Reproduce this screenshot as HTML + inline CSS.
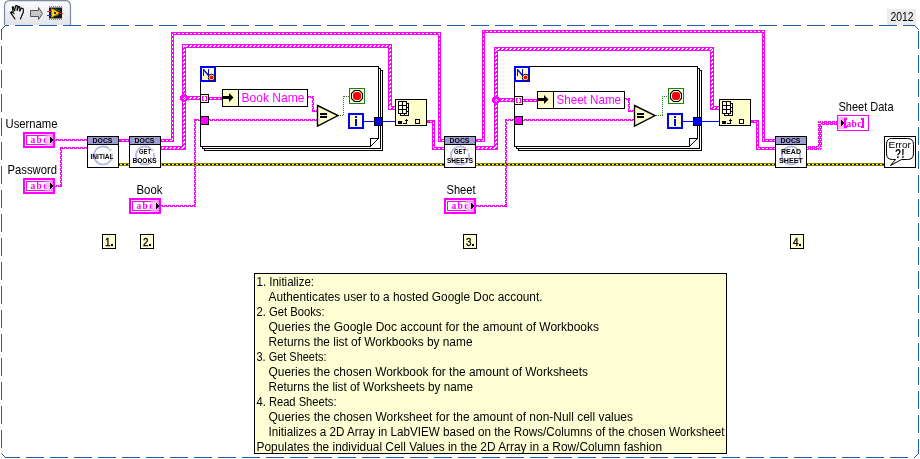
<!DOCTYPE html>
<html><head><meta charset="utf-8"><style>
html,body{margin:0;padding:0;background:#fff;width:920px;height:459px;overflow:hidden}
svg{display:block;will-change:transform}
</style></head><body>
<svg width="920" height="459" viewBox="0 0 920 459" shape-rendering="crispEdges">
<defs>
<pattern id="dh" width="4" height="1" patternUnits="userSpaceOnUse"><rect x="2" width="2" height="1" fill="#fff"/></pattern>
<pattern id="dv" width="1" height="4" patternUnits="userSpaceOnUse"><rect y="2" width="1" height="2" fill="#fff"/></pattern>
<pattern id="zA" width="4" height="1" patternUnits="userSpaceOnUse"><rect x="2" width="2" height="1" fill="#fff"/></pattern>
<pattern id="zB" width="4" height="1" patternUnits="userSpaceOnUse"><rect x="1" width="2" height="1" fill="#fff"/></pattern>
<pattern id="zAv" width="1" height="4" patternUnits="userSpaceOnUse"><rect y="2" width="1" height="2" fill="#fff"/></pattern>
<pattern id="zBv" width="1" height="4" patternUnits="userSpaceOnUse"><rect y="1" width="1" height="2" fill="#fff"/></pattern>
<pattern id="c0" width="4" height="1" patternUnits="userSpaceOnUse"><rect x="3" width="1" height="1" fill="#fff"/></pattern><pattern id="c1" width="4" height="1" patternUnits="userSpaceOnUse"><rect x="1" width="1" height="1" fill="#fff"/></pattern>
<pattern id="c0v" width="1" height="4" patternUnits="userSpaceOnUse"><rect y="3" width="1" height="1" fill="#fff"/></pattern><pattern id="c1v" width="1" height="4" patternUnits="userSpaceOnUse"><rect y="1" width="1" height="1" fill="#fff"/></pattern>
<pattern id="swA" width="4" height="1" patternUnits="userSpaceOnUse"><rect x="0" width="3" height="1" fill="#ff00ff"/></pattern>
<pattern id="swB" width="4" height="1" patternUnits="userSpaceOnUse"><rect x="0" width="1" height="1" fill="#ff00ff"/><rect x="2" width="2" height="1" fill="#ff00ff"/></pattern>
<pattern id="swAv" width="1" height="4" patternUnits="userSpaceOnUse"><rect y="0" width="1" height="3" fill="#ff00ff"/></pattern>
<pattern id="swBv" width="1" height="4" patternUnits="userSpaceOnUse"><rect y="0" width="1" height="1" fill="#ff00ff"/><rect y="2" width="1" height="2" fill="#ff00ff"/></pattern>
<pattern id="eh" width="4" height="1" patternUnits="userSpaceOnUse"><rect x="0" width="2" height="1" fill="#ffff00"/><rect x="2" width="2" height="1" fill="#000"/></pattern>
<pattern id="ev" width="1" height="4" patternUnits="userSpaceOnUse"><rect y="0" width="1" height="2" fill="#ffff00"/><rect y="2" width="1" height="2" fill="#000"/></pattern>
<pattern id="gd" width="2" height="1" patternUnits="userSpaceOnUse"><rect x="0" width="1" height="1" fill="#1a7f1a"/></pattern>
<pattern id="gdv" width="1" height="2" patternUnits="userSpaceOnUse"><rect y="0" width="1" height="1" fill="#1a7f1a"/></pattern>
<linearGradient id="tabg" x1="0" y1="0" x2="0" y2="1"><stop offset="0" stop-color="#fbfbfd"/><stop offset="1" stop-color="#e3e4e9"/></linearGradient>
<radialGradient id="gG" cx="0.5" cy="0.5" r="0.5"><stop offset="0.6" stop-color="#fff" stop-opacity="0"/><stop offset="0.8" stop-color="#9a9ae0"/><stop offset="1" stop-color="#fff" stop-opacity="0"/></radialGradient>
</defs>
<path d="M4.5,25 L4.5,6 Q4.5,0.7 9.8,0.7 L65.2,0.7 Q70.5,0.7 70.5,6 L70.5,25" fill="url(#tabg)" stroke="#8089a0" stroke-width="1.2" shape-rendering="geometricPrecision"/>
<g fill="none" stroke="#000" stroke-width="1.15" stroke-linecap="round" stroke-linejoin="round" shape-rendering="geometricPrecision"><path d="M15,19 L10.6,12.6 L11.6,11.8 L14,13.6"/><path d="M13.2,11.8 L12.3,7.3 L13.2,6.6 L14.6,10.8"/><path d="M14.6,10.6 L15.6,5.8 L17.2,5.6 L17.2,10.4"/><path d="M17.4,10 L18.6,6.4 L19.8,6.8 L19.9,11.2"/><path d="M20,10.4 L21.4,8.0 L23.2,8.8 L23.4,12 L20.4,19"/></g>
<path d="M30.5,10.5 L38.5,10.5 L38.5,7.5 L42.5,13.5 L38.5,19.5 L38.5,16.5 L30.5,16.5 Z" fill="#c8c8c8" stroke="#555" stroke-width="1" shape-rendering="geometricPrecision"/>
<rect x="49" y="6" width="13" height="14" fill="#151515" />
<rect x="49" y="6" width="13" height="2" fill="#8a8a8a" />
<rect x="49" y="18" width="13" height="2" fill="#8a8a8a" />
<rect x="50" y="6" width="1" height="1" fill="#e8e8e8" />
<rect x="50" y="19" width="1" height="1" fill="#e8e8e8" />
<rect x="52" y="6" width="1" height="1" fill="#e8e8e8" />
<rect x="52" y="19" width="1" height="1" fill="#e8e8e8" />
<rect x="54" y="6" width="1" height="1" fill="#e8e8e8" />
<rect x="54" y="19" width="1" height="1" fill="#e8e8e8" />
<rect x="56" y="6" width="1" height="1" fill="#e8e8e8" />
<rect x="56" y="19" width="1" height="1" fill="#e8e8e8" />
<rect x="58" y="6" width="1" height="1" fill="#e8e8e8" />
<rect x="58" y="19" width="1" height="1" fill="#e8e8e8" />
<rect x="60" y="6" width="1" height="1" fill="#e8e8e8" />
<rect x="60" y="19" width="1" height="1" fill="#e8e8e8" />
<path d="M55,9 L60,11 M56,16 L60,13 M54,9 L58,16" stroke="#2a8a2a" stroke-width="0.8" shape-rendering="geometricPrecision"/>
<path d="M51.5,8.5 L59.5,13 L51.5,17.5 Z" fill="#f8d41c" stroke="#d89a00" stroke-width="0.6" shape-rendering="geometricPrecision"/>
<rect x="47" y="11" width="5" height="1" fill="#ff2020" />
<rect x="47" y="15" width="5" height="1" fill="#2030ff" />
<rect x="58" y="13" width="5" height="1" fill="#ff2020" />
<rect x="54" y="12" width="2" height="2" fill="#333" />
<rect x="887" y="9" width="29" height="16" fill="#ebebeb" />
<text x="890.5" y="21" font-family="Liberation Sans" font-size="12.6" font-weight="400" fill="#000" textLength="23" lengthAdjust="spacingAndGlyphs" >2012</text>
<g stroke="#1d5fab" stroke-width="1" fill="none">
<line x1="5" y1="25.5" x2="915" y2="25.5" stroke-dasharray="18 6" stroke-dashoffset="14"/>
<line x1="5" y1="457.5" x2="915" y2="457.5" stroke-dasharray="18 6" stroke-dashoffset="3"/>
<line x1="1.5" y1="29" x2="1.5" y2="454" stroke-dasharray="18 6" stroke-dashoffset="7"/>
<line x1="918.5" y1="29" x2="918.5" y2="454" stroke-dasharray="18 6" stroke-dashoffset="22"/>
<path d="M1.5,29.5 L5.5,25.5" shape-rendering="geometricPrecision"/>
<path d="M914.5,25.5 L918.5,29.5" shape-rendering="geometricPrecision"/>
<path d="M1.5,453.5 L5.5,457.5" shape-rendering="geometricPrecision"/>
<path d="M914.5,457.5 L918.5,453.5" shape-rendering="geometricPrecision"/>
</g>
<text x="5.5" y="128" font-family="Liberation Sans" font-size="12.2" font-weight="400" fill="#000" textLength="52" lengthAdjust="spacingAndGlyphs" >Username</text>
<rect x="23" y="132" width="32" height="16" fill="#ff00ff" />
<rect x="25" y="134" width="28" height="12" fill="#fff" />
<rect x="26" y="135" width="26" height="10" fill="#ff00ff" />
<rect x="27" y="136" width="24" height="8" fill="#fff" />
<text x="30.5" y="143" font-family="Liberation Serif" font-size="9.5" font-weight="700" fill="#ff00ff" textLength="17" lengthAdjust="spacing" >abc</text>
<rect x="45" y="134" width="8" height="12" fill="#ffb0ff" opacity="0.75"/>
<rect x="52" y="134" width="1" height="12" fill="#ff80ff" />
<path d="M50,137 L53,140 L50,143 Z" fill="#000"/>
<text x="7.5" y="174" font-family="Liberation Sans" font-size="12.2" font-weight="400" fill="#000" textLength="49.5" lengthAdjust="spacingAndGlyphs" >Password</text>
<rect x="23" y="178" width="32" height="16" fill="#ff00ff" />
<rect x="25" y="180" width="28" height="12" fill="#fff" />
<rect x="26" y="181" width="26" height="10" fill="#ff00ff" />
<rect x="27" y="182" width="24" height="8" fill="#fff" />
<text x="30.5" y="189" font-family="Liberation Serif" font-size="9.5" font-weight="700" fill="#ff00ff" textLength="17" lengthAdjust="spacing" >abc</text>
<rect x="45" y="180" width="8" height="12" fill="#ffb0ff" opacity="0.75"/>
<rect x="52" y="180" width="1" height="12" fill="#ff80ff" />
<path d="M50,183 L53,186 L50,189 Z" fill="#000"/>
<text x="136.5" y="194" font-family="Liberation Sans" font-size="12.2" font-weight="400" fill="#000" textLength="26" lengthAdjust="spacingAndGlyphs" >Book</text>
<rect x="129" y="198" width="32" height="16" fill="#ff00ff" />
<rect x="131" y="200" width="28" height="12" fill="#fff" />
<rect x="132" y="201" width="26" height="10" fill="#ff00ff" />
<rect x="133" y="202" width="24" height="8" fill="#fff" />
<text x="136.5" y="209" font-family="Liberation Serif" font-size="9.5" font-weight="700" fill="#ff00ff" textLength="17" lengthAdjust="spacing" >abc</text>
<rect x="151" y="200" width="8" height="12" fill="#ffb0ff" opacity="0.75"/>
<rect x="158" y="200" width="1" height="12" fill="#ff80ff" />
<path d="M156,203 L159,206 L156,209 Z" fill="#000"/>
<text x="446.5" y="194" font-family="Liberation Sans" font-size="12.2" font-weight="400" fill="#000" textLength="29" lengthAdjust="spacingAndGlyphs" >Sheet</text>
<rect x="444" y="198" width="32" height="16" fill="#ff00ff" />
<rect x="446" y="200" width="28" height="12" fill="#fff" />
<rect x="447" y="201" width="26" height="10" fill="#ff00ff" />
<rect x="448" y="202" width="24" height="8" fill="#fff" />
<text x="451.5" y="209" font-family="Liberation Serif" font-size="9.5" font-weight="700" fill="#ff00ff" textLength="17" lengthAdjust="spacing" >abc</text>
<rect x="466" y="200" width="8" height="12" fill="#ffb0ff" opacity="0.75"/>
<rect x="473" y="200" width="1" height="12" fill="#ff80ff" />
<path d="M471,203 L474,206 L471,209 Z" fill="#000"/>
<text x="838.5" y="111" font-family="Liberation Sans" font-size="12.2" font-weight="400" fill="#000" textLength="55" lengthAdjust="spacingAndGlyphs" >Sheet Data</text>
<rect x="55" y="139" width="34" height="1" fill="url(#swA)" />
<rect x="55" y="140" width="34" height="1" fill="url(#swB)" />
<rect x="55" y="185" width="7" height="1" fill="url(#swA)" />
<rect x="55" y="186" width="7" height="1" fill="url(#swB)" />
<rect x="60" y="147" width="1" height="40" fill="url(#swAv)" />
<rect x="61" y="147" width="1" height="40" fill="url(#swBv)" />
<rect x="60" y="147" width="29" height="1" fill="url(#swA)" />
<rect x="60" y="148" width="29" height="1" fill="url(#swB)" />
<rect x="119" y="139" width="13" height="3" fill="#ff00ff" />
<rect x="120" y="140" width="11" height="1" fill="url(#dh)" />
<rect x="119" y="163" width="13" height="3" fill="#8c8400" />
<rect x="119" y="164" width="13" height="1" fill="url(#eh)" />
<rect x="161" y="139" width="13" height="3" fill="#ff00ff" />
<rect x="171" y="32" width="3" height="110" fill="#ff00ff" />
<rect x="171" y="32" width="270" height="3" fill="#ff00ff" />
<rect x="438" y="32" width="3" height="110" fill="#ff00ff" />
<rect x="438" y="139" width="9" height="3" fill="#ff00ff" />
<rect x="162" y="140" width="11" height="1" fill="url(#dh)" />
<rect x="172" y="33" width="1" height="108" fill="url(#dv)" />
<rect x="172" y="33" width="268" height="1" fill="url(#dh)" />
<rect x="439" y="33" width="1" height="108" fill="url(#dv)" />
<rect x="439" y="140" width="7" height="1" fill="url(#dh)" />
<rect x="161" y="146" width="25" height="4" fill="#ff00ff" />
<rect x="182" y="44" width="4" height="106" fill="#ff00ff" />
<rect x="182" y="44" width="210" height="4" fill="#ff00ff" />
<rect x="388" y="44" width="4" height="66" fill="#ff00ff" />
<rect x="388" y="106" width="11" height="4" fill="#ff00ff" />
<rect x="162" y="147" width="23" height="1" fill="url(#zA)" />
<rect x="162" y="148" width="23" height="1" fill="url(#zB)" />
<rect x="183" y="45" width="1" height="104" fill="url(#zAv)" />
<rect x="184" y="45" width="1" height="104" fill="url(#zBv)" />
<rect x="183" y="45" width="208" height="1" fill="url(#zA)" />
<rect x="183" y="46" width="208" height="1" fill="url(#zB)" />
<rect x="389" y="45" width="1" height="64" fill="url(#zAv)" />
<rect x="390" y="45" width="1" height="64" fill="url(#zBv)" />
<rect x="389" y="107" width="9" height="1" fill="url(#zA)" />
<rect x="389" y="108" width="9" height="1" fill="url(#zB)" />
<rect x="182" y="96" width="22" height="4" fill="#ff00ff" />
<rect x="183" y="97" width="20" height="1" fill="url(#zA)" />
<rect x="183" y="98" width="20" height="1" fill="url(#zB)" />
<rect x="161" y="205" width="35" height="1" fill="url(#swA)" />
<rect x="161" y="206" width="35" height="1" fill="url(#swB)" />
<rect x="194" y="119" width="1" height="88" fill="url(#swAv)" />
<rect x="195" y="119" width="1" height="88" fill="url(#swBv)" />
<rect x="194" y="119" width="8" height="1" fill="url(#swA)" />
<rect x="194" y="120" width="8" height="1" fill="url(#swB)" />
<rect x="208" y="119" width="111" height="1" fill="url(#swA)" />
<rect x="208" y="120" width="111" height="1" fill="url(#swB)" />
<rect x="208" y="97" width="17" height="3" fill="#ff00ff" />
<rect x="209" y="98" width="15" height="1" fill="url(#dh)" />
<rect x="308" y="96" width="6" height="1" fill="url(#swA)" />
<rect x="308" y="97" width="6" height="1" fill="url(#swB)" />
<rect x="312" y="96" width="1" height="16" fill="url(#swAv)" />
<rect x="313" y="96" width="1" height="16" fill="url(#swBv)" />
<rect x="312" y="110" width="8" height="1" fill="url(#swA)" />
<rect x="312" y="111" width="8" height="1" fill="url(#swB)" />
<rect x="338" y="115" width="6" height="1" fill="url(#gd)" />
<rect x="343" y="96" width="1" height="20" fill="url(#gdv)" />
<rect x="343" y="96" width="7" height="1" fill="url(#gd)" />
<rect x="364" y="121" width="32" height="1" fill="#0000ff" />
<rect x="427" y="120" width="8" height="3" fill="#ff00ff" />
<rect x="432" y="120" width="3" height="30" fill="#ff00ff" />
<rect x="432" y="147" width="15" height="3" fill="#ff00ff" />
<rect x="428" y="121" width="6" height="1" fill="url(#dh)" />
<rect x="433" y="121" width="1" height="28" fill="url(#dv)" />
<rect x="433" y="148" width="13" height="1" fill="url(#dh)" />
<rect x="161" y="163" width="286" height="3" fill="#8c8400" />
<rect x="161" y="164" width="286" height="1" fill="url(#eh)" />
<rect x="476" y="139" width="9" height="3" fill="#ff00ff" />
<rect x="482" y="30" width="3" height="112" fill="#ff00ff" />
<rect x="482" y="30" width="283" height="3" fill="#ff00ff" />
<rect x="762" y="30" width="3" height="112" fill="#ff00ff" />
<rect x="762" y="139" width="16" height="3" fill="#ff00ff" />
<rect x="477" y="140" width="7" height="1" fill="url(#dh)" />
<rect x="483" y="31" width="1" height="110" fill="url(#dv)" />
<rect x="483" y="31" width="281" height="1" fill="url(#dh)" />
<rect x="763" y="31" width="1" height="110" fill="url(#dv)" />
<rect x="763" y="140" width="14" height="1" fill="url(#dh)" />
<rect x="476" y="146" width="22" height="4" fill="#ff00ff" />
<rect x="494" y="47" width="4" height="103" fill="#ff00ff" />
<rect x="494" y="47" width="220" height="4" fill="#ff00ff" />
<rect x="710" y="47" width="4" height="63" fill="#ff00ff" />
<rect x="710" y="106" width="13" height="4" fill="#ff00ff" />
<rect x="477" y="147" width="20" height="1" fill="url(#zA)" />
<rect x="477" y="148" width="20" height="1" fill="url(#zB)" />
<rect x="495" y="48" width="1" height="101" fill="url(#zAv)" />
<rect x="496" y="48" width="1" height="101" fill="url(#zBv)" />
<rect x="495" y="48" width="218" height="1" fill="url(#zA)" />
<rect x="495" y="49" width="218" height="1" fill="url(#zB)" />
<rect x="711" y="48" width="1" height="61" fill="url(#zAv)" />
<rect x="712" y="48" width="1" height="61" fill="url(#zBv)" />
<rect x="711" y="107" width="11" height="1" fill="url(#zA)" />
<rect x="711" y="108" width="11" height="1" fill="url(#zB)" />
<rect x="494" y="98" width="24" height="4" fill="#ff00ff" />
<rect x="495" y="99" width="22" height="1" fill="url(#zA)" />
<rect x="495" y="100" width="22" height="1" fill="url(#zB)" />
<rect x="476" y="205" width="31" height="1" fill="url(#swA)" />
<rect x="476" y="206" width="31" height="1" fill="url(#swB)" />
<rect x="505" y="119" width="1" height="88" fill="url(#swAv)" />
<rect x="506" y="119" width="1" height="88" fill="url(#swBv)" />
<rect x="505" y="119" width="11" height="1" fill="url(#swA)" />
<rect x="505" y="120" width="11" height="1" fill="url(#swB)" />
<rect x="522" y="119" width="114" height="1" fill="url(#swA)" />
<rect x="522" y="120" width="114" height="1" fill="url(#swB)" />
<rect x="522" y="99" width="18" height="3" fill="#ff00ff" />
<rect x="523" y="100" width="16" height="1" fill="url(#dh)" />
<rect x="625" y="98" width="5" height="1" fill="url(#swA)" />
<rect x="625" y="99" width="5" height="1" fill="url(#swB)" />
<rect x="628" y="98" width="1" height="14" fill="url(#swAv)" />
<rect x="629" y="98" width="1" height="14" fill="url(#swBv)" />
<rect x="628" y="110" width="9" height="1" fill="url(#swA)" />
<rect x="628" y="111" width="9" height="1" fill="url(#swB)" />
<rect x="655" y="115" width="8" height="1" fill="url(#gd)" />
<rect x="662" y="96" width="1" height="20" fill="url(#gdv)" />
<rect x="662" y="96" width="7" height="1" fill="url(#gd)" />
<rect x="683" y="121" width="37" height="1" fill="#0000ff" />
<rect x="751" y="120" width="8" height="3" fill="#ff00ff" />
<rect x="756" y="120" width="3" height="30" fill="#ff00ff" />
<rect x="756" y="147" width="22" height="3" fill="#ff00ff" />
<rect x="752" y="121" width="6" height="1" fill="url(#dh)" />
<rect x="757" y="121" width="1" height="28" fill="url(#dv)" />
<rect x="757" y="148" width="20" height="1" fill="url(#dh)" />
<rect x="476" y="163" width="302" height="3" fill="#8c8400" />
<rect x="476" y="164" width="302" height="1" fill="url(#eh)" />
<rect x="807" y="163" width="80" height="3" fill="#8c8400" />
<rect x="807" y="164" width="80" height="1" fill="url(#eh)" />
<rect x="807" y="146" width="15" height="4" fill="#ff00ff" />
<rect x="818" y="121" width="4" height="29" fill="#ff00ff" />
<rect x="818" y="121" width="23" height="4" fill="#ff00ff" />
<rect x="807" y="146" width="15" height="1" fill="url(#c0)" />
<rect x="807" y="147" width="15" height="1" fill="url(#c1)" />
<rect x="807" y="148" width="15" height="1" fill="url(#c0)" />
<rect x="807" y="149" width="15" height="1" fill="url(#c1)" />
<rect x="818" y="121" width="1" height="29" fill="url(#c0v)" />
<rect x="819" y="121" width="1" height="29" fill="url(#c1v)" />
<rect x="820" y="121" width="1" height="29" fill="url(#c0v)" />
<rect x="821" y="121" width="1" height="29" fill="url(#c1v)" />
<rect x="818" y="121" width="23" height="1" fill="url(#c0)" />
<rect x="818" y="122" width="23" height="1" fill="url(#c1)" />
<rect x="818" y="123" width="23" height="1" fill="url(#c0)" />
<rect x="818" y="124" width="23" height="1" fill="url(#c1)" />
<rect x="837.5" y="115.5" width="31" height="15" fill="#fff" stroke="#ff00ff" stroke-width="1"/>
<rect x="838" y="117" width="9" height="12" fill="#ffb3ff" />
<path d="M841,120 L844.5,123 L841,126 Z" fill="#000"/>
<rect x="844" y="118" width="2" height="10" fill="#ff00ff" />
<rect x="846" y="118" width="1" height="2" fill="#ff00ff" />
<rect x="846" y="126" width="1" height="2" fill="#ff00ff" />
<text x="846.5" y="126.5" font-family="Liberation Serif" font-size="9.5" font-weight="700" fill="#ff00ff" textLength="15" lengthAdjust="spacing" >abc</text>
<rect x="862" y="118" width="2" height="10" fill="#ff00ff" />
<rect x="861" y="118" width="1" height="2" fill="#ff00ff" />
<rect x="861" y="126" width="1" height="2" fill="#ff00ff" />
<rect x="180" y="96" width="8" height="4" fill="#ff00ff" />
<rect x="181" y="95" width="6" height="6" fill="#ff00ff" />
<rect x="182" y="94" width="4" height="8" fill="#ff00ff" />
<rect x="183" y="98" width="1" height="1" fill="#fff" />
<rect x="184" y="97" width="1" height="1" fill="#fff" />
<rect x="184" y="99" width="1" height="1" fill="#fff" />
<rect x="185" y="98" width="1" height="1" fill="#fff" />
<rect x="492" y="98" width="8" height="4" fill="#ff00ff" />
<rect x="493" y="97" width="6" height="6" fill="#ff00ff" />
<rect x="494" y="96" width="4" height="8" fill="#ff00ff" />
<rect x="495" y="100" width="1" height="1" fill="#fff" />
<rect x="496" y="99" width="1" height="1" fill="#fff" />
<rect x="496" y="101" width="1" height="1" fill="#fff" />
<rect x="497" y="100" width="1" height="1" fill="#fff" />
<rect x="87.5" y="136.5" width="31" height="31" fill="#fff" stroke="#000" stroke-width="1"/>
<rect x="88" y="137" width="30" height="7" fill="#9c9cd0" />
<rect x="88" y="144" width="30" height="1" fill="#000" />
<path d="M108.8,148.6 A9,9 0 1 0 111.7,153.2" fill="none" stroke="#b0b2ea" stroke-width="1.7" shape-rendering="geometricPrecision"/>
<path d="M112,156.0 A9,9 0 0 1 106,164.0" fill="none" stroke="#c2c2d6" stroke-width="1.4" shape-rendering="geometricPrecision"/>
<circle cx="110.2" cy="150.1" r="1.5" fill="#cfcfcf" shape-rendering="geometricPrecision"/>
<text x="92.5" y="143" font-family="Liberation Sans" font-size="7.2" font-weight="700" fill="#000" textLength="20" lengthAdjust="spacingAndGlyphs" >DOCS</text>
<text x="90.5" y="159" font-family="Liberation Sans" font-size="7.6" font-weight="700" fill="#000" textLength="23" lengthAdjust="spacingAndGlyphs" >INITIAL</text>
<rect x="129.5" y="136.5" width="31" height="31" fill="#fff" stroke="#000" stroke-width="1"/>
<rect x="130" y="137" width="30" height="7" fill="#9c9cd0" />
<rect x="130" y="144" width="30" height="1" fill="#000" />
<path d="M150.8,148.6 A9,9 0 1 0 153.7,153.2" fill="none" stroke="#b0b2ea" stroke-width="1.7" shape-rendering="geometricPrecision"/>
<path d="M154,156.0 A9,9 0 0 1 148,164.0" fill="none" stroke="#c2c2d6" stroke-width="1.4" shape-rendering="geometricPrecision"/>
<circle cx="152.2" cy="150.1" r="1.5" fill="#cfcfcf" shape-rendering="geometricPrecision"/>
<text x="134.5" y="143" font-family="Liberation Sans" font-size="7.2" font-weight="700" fill="#000" textLength="20" lengthAdjust="spacingAndGlyphs" >DOCS</text>
<text x="139" y="154" font-family="Liberation Sans" font-size="7.6" font-weight="700" fill="#000" textLength="12" lengthAdjust="spacingAndGlyphs" >GET</text>
<text x="132.5" y="163" font-family="Liberation Sans" font-size="7.6" font-weight="700" fill="#000" textLength="24" lengthAdjust="spacingAndGlyphs" >BOOKS</text>
<rect x="444.5" y="136.5" width="31" height="31" fill="#fff" stroke="#000" stroke-width="1"/>
<rect x="445" y="137" width="30" height="7" fill="#9c9cd0" />
<rect x="445" y="144" width="30" height="1" fill="#000" />
<path d="M465.8,148.6 A9,9 0 1 0 468.7,153.2" fill="none" stroke="#b0b2ea" stroke-width="1.7" shape-rendering="geometricPrecision"/>
<path d="M469,156.0 A9,9 0 0 1 463,164.0" fill="none" stroke="#c2c2d6" stroke-width="1.4" shape-rendering="geometricPrecision"/>
<circle cx="467.2" cy="150.1" r="1.5" fill="#cfcfcf" shape-rendering="geometricPrecision"/>
<text x="449.5" y="143" font-family="Liberation Sans" font-size="7.2" font-weight="700" fill="#000" textLength="20" lengthAdjust="spacingAndGlyphs" >DOCS</text>
<text x="454" y="154" font-family="Liberation Sans" font-size="7.6" font-weight="700" fill="#000" textLength="12" lengthAdjust="spacingAndGlyphs" >GET</text>
<text x="447" y="163" font-family="Liberation Sans" font-size="7.6" font-weight="700" fill="#000" textLength="26" lengthAdjust="spacingAndGlyphs" >SHEETS</text>
<rect x="775.5" y="136.5" width="31" height="31" fill="#fff" stroke="#000" stroke-width="1"/>
<rect x="776" y="137" width="30" height="7" fill="#9c9cd0" />
<rect x="776" y="144" width="30" height="1" fill="#000" />
<path d="M796.8,148.6 A9,9 0 1 0 799.7,153.2" fill="none" stroke="#b0b2ea" stroke-width="1.7" shape-rendering="geometricPrecision"/>
<path d="M800,156.0 A9,9 0 0 1 794,164.0" fill="none" stroke="#c2c2d6" stroke-width="1.4" shape-rendering="geometricPrecision"/>
<circle cx="798.2" cy="150.1" r="1.5" fill="#cfcfcf" shape-rendering="geometricPrecision"/>
<text x="780.5" y="143" font-family="Liberation Sans" font-size="7.2" font-weight="700" fill="#000" textLength="20" lengthAdjust="spacingAndGlyphs" >DOCS</text>
<text x="781" y="154" font-family="Liberation Sans" font-size="7.6" font-weight="700" fill="#000" textLength="20" lengthAdjust="spacingAndGlyphs" >READ</text>
<text x="779" y="163" font-family="Liberation Sans" font-size="7.6" font-weight="700" fill="#000" textLength="24" lengthAdjust="spacingAndGlyphs" >SHEET</text>
<rect x="884.5" y="136.5" width="31" height="31" fill="#fff" stroke="#000" stroke-width="1"/>
<path d="M891.5,138.5 L907.5,138.5 Q913.5,138.5 913.5,144.5 L913.5,153.5 Q913.5,159.5 907.5,159.5 L901.5,159.5 L890.5,165.5 L895.5,159.5 L892.5,159.5 Q886.5,159.5 886.5,153.5 L886.5,144.5 Q886.5,138.5 891.5,138.5 Z" fill="#fff" stroke="#000" stroke-width="1" shape-rendering="geometricPrecision"/>
<text x="888.5" y="148" font-family="Liberation Sans" font-size="8.4" font-weight="400" fill="#000" textLength="22.5" lengthAdjust="spacingAndGlyphs" >Error</text>
<text x="895" y="157.5" font-family="Liberation Sans" font-size="12" font-weight="700" fill="#000" textLength="9.5" lengthAdjust="spacingAndGlyphs" >?!</text>
<path d="M378.5,138.5 L378.5,66.5 L200.5,66.5 L200.5,146.5 L370.5,146.5" fill="none" stroke="#000"/>
<path d="M370.5,146.5 L370.5,138.5 L378.5,138.5" fill="none" stroke="#000"/>
<path d="M370.5,146.5 L378.5,138.5" fill="none" stroke="#000" shape-rendering="geometricPrecision"/>
<path d="M379,68.5 L380.5,68.5 L380.5,148.5 L202.5,148.5 L202.5,147" fill="none" stroke="#000"/>
<path d="M381,70.5 L382.5,70.5 L382.5,150.5 L204.5,150.5 L204.5,149" fill="none" stroke="#000"/>
<rect x="200" y="66" width="16" height="16" fill="#0000ff" />
<rect x="202" y="68" width="12" height="12" fill="#ffffcc" />
<rect x="203" y="69" width="1" height="7" fill="#0000ff" />
<rect x="208" y="69" width="1" height="7" fill="#0000ff" />
<path d="M203.5,69.5 L208.5,75.5" stroke="#0000ff" stroke-width="1.3" shape-rendering="geometricPrecision"/>
<circle cx="211.5" cy="77.5" r="3.3" fill="#ffffe0" stroke="#000" stroke-width="1" shape-rendering="geometricPrecision"/>
<circle cx="211.5" cy="77.5" r="2" fill="#f00" shape-rendering="geometricPrecision"/>
<rect x="200.5" y="94.5" width="8" height="8" fill="#ffffcc" stroke="#000" stroke-width="1"/>
<rect x="202" y="96" width="1" height="5" fill="#ff00ff" />
<rect x="203" y="96" width="1" height="1" fill="#ff00ff" />
<rect x="203" y="100" width="1" height="1" fill="#ff00ff" />
<rect x="206" y="96" width="1" height="5" fill="#ff00ff" />
<rect x="205" y="96" width="1" height="1" fill="#ff00ff" />
<rect x="205" y="100" width="1" height="1" fill="#ff00ff" />
<rect x="200.5" y="116.5" width="8" height="8" fill="#ff00ff" stroke="#000" stroke-width="1"/>
<rect x="222.5" y="89.5" width="85" height="17" fill="#fff" stroke="#000" stroke-width="1"/>
<rect x="223" y="90" width="15" height="16" fill="#ffffcc" />
<rect x="238" y="90" width="1" height="16" fill="#000" />
<rect x="223" y="96" width="7" height="3" fill="#000" />
<path d="M229,93 L233.5,97.5 L229,102 Z" fill="#000" shape-rendering="geometricPrecision"/>
<text x="241.5" y="101.5" font-family="Liberation Sans" font-size="12.2" font-weight="400" fill="#ff00ff" textLength="63" lengthAdjust="spacingAndGlyphs" >Book Name</text>
<path d="M317.5,105.5 L338,115.5 L317.5,126 Z" fill="#ffffcc" stroke="#000" stroke-width="1.4" shape-rendering="geometricPrecision"/>
<rect x="320" y="113" width="7" height="2" fill="#000" />
<rect x="320" y="116" width="7" height="2" fill="#000" />
<rect x="349.5" y="88.5" width="15" height="15" fill="#ffffcc" stroke="#1a7f1a" stroke-width="1"/>
<polygon points="354.5,90.5 359.5,90.5 362.5,93.5 362.5,98.5 359.5,101.5 354.5,101.5 351.5,98.5 351.5,93.5" fill="#fff" stroke="#000" stroke-width="1.1" shape-rendering="geometricPrecision"/>
<polygon points="355,92 359,92 361,94 361,98 359,100 355,100 353,98 353,94" fill="#f00" shape-rendering="geometricPrecision"/>
<rect x="348" y="113" width="16" height="16" fill="#0000ff" />
<rect x="350" y="115" width="12" height="12" fill="#ffffcc" />
<rect x="355" y="119" width="2" height="7" fill="#0000ff" />
<rect x="355" y="116" width="2" height="2" fill="#0000ff" />
<rect x="374.5" y="117.5" width="8" height="8" fill="#0000ff" stroke="#000" stroke-width="1"/>
<rect x="395.5" y="99.5" width="31" height="26" fill="#ffffcc" stroke="#000" stroke-width="1"/>
<rect x="400.5" y="103.5" width="8" height="12" fill="#ffffe6" stroke="#000" stroke-width="1"/>
<rect x="404" y="103" width="1" height="12" fill="#000" />
<rect x="400" y="107" width="8" height="1" fill="#000" />
<rect x="400" y="111" width="8" height="1" fill="#000" />
<rect x="398.5" y="101.5" width="8" height="12" fill="#ffffe6" stroke="#000" stroke-width="1"/>
<rect x="402" y="101" width="1" height="12" fill="#000" />
<rect x="398" y="105" width="8" height="1" fill="#000" />
<rect x="398" y="109" width="8" height="1" fill="#000" />
<rect x="398" y="121" width="4" height="3" fill="#000" />
<rect x="403" y="123" width="1" height="1" fill="#000" />
<rect x="406" y="119" width="1" height="5" fill="#000" />
<rect x="405" y="120" width="1" height="1" fill="#000" />
<rect x="407" y="120" width="1" height="1" fill="#000" />
<rect x="404" y="123" width="2" height="1" fill="#000" />
<rect x="415.5" y="119.5" width="4" height="4" fill="#ffffcc" stroke="#000" stroke-width="1"/>
<path d="M697.5,138.5 L697.5,66.5 L514.5,66.5 L514.5,146.5 L689.5,146.5" fill="none" stroke="#000"/>
<path d="M689.5,146.5 L689.5,138.5 L697.5,138.5" fill="none" stroke="#000"/>
<path d="M689.5,146.5 L697.5,138.5" fill="none" stroke="#000" shape-rendering="geometricPrecision"/>
<path d="M698,68.5 L699.5,68.5 L699.5,148.5 L516.5,148.5 L516.5,147" fill="none" stroke="#000"/>
<path d="M700,70.5 L701.5,70.5 L701.5,150.5 L518.5,150.5 L518.5,149" fill="none" stroke="#000"/>
<rect x="514" y="66" width="16" height="16" fill="#0000ff" />
<rect x="516" y="68" width="12" height="12" fill="#ffffcc" />
<rect x="517" y="69" width="1" height="7" fill="#0000ff" />
<rect x="522" y="69" width="1" height="7" fill="#0000ff" />
<path d="M517.5,69.5 L522.5,75.5" stroke="#0000ff" stroke-width="1.3" shape-rendering="geometricPrecision"/>
<circle cx="525.5" cy="77.5" r="3.3" fill="#ffffe0" stroke="#000" stroke-width="1" shape-rendering="geometricPrecision"/>
<circle cx="525.5" cy="77.5" r="2" fill="#f00" shape-rendering="geometricPrecision"/>
<rect x="514.5" y="96.5" width="8" height="8" fill="#ffffcc" stroke="#000" stroke-width="1"/>
<rect x="516" y="98" width="1" height="5" fill="#ff00ff" />
<rect x="517" y="98" width="1" height="1" fill="#ff00ff" />
<rect x="517" y="102" width="1" height="1" fill="#ff00ff" />
<rect x="520" y="98" width="1" height="5" fill="#ff00ff" />
<rect x="519" y="98" width="1" height="1" fill="#ff00ff" />
<rect x="519" y="102" width="1" height="1" fill="#ff00ff" />
<rect x="514.5" y="116.5" width="8" height="8" fill="#ff00ff" stroke="#000" stroke-width="1"/>
<rect x="537.5" y="91.5" width="87" height="17" fill="#fff" stroke="#000" stroke-width="1"/>
<rect x="538" y="92" width="15" height="16" fill="#ffffcc" />
<rect x="553" y="92" width="1" height="16" fill="#000" />
<rect x="538" y="98" width="7" height="3" fill="#000" />
<path d="M544,95 L548.5,99.5 L544,104 Z" fill="#000" shape-rendering="geometricPrecision"/>
<text x="556.5" y="103.5" font-family="Liberation Sans" font-size="12.2" font-weight="400" fill="#ff00ff" textLength="64.5" lengthAdjust="spacingAndGlyphs" >Sheet Name</text>
<path d="M634.5,105.5 L655,115.5 L634.5,126 Z" fill="#ffffcc" stroke="#000" stroke-width="1.4" shape-rendering="geometricPrecision"/>
<rect x="637" y="113" width="7" height="2" fill="#000" />
<rect x="637" y="116" width="7" height="2" fill="#000" />
<rect x="668.5" y="88.5" width="15" height="15" fill="#ffffcc" stroke="#1a7f1a" stroke-width="1"/>
<polygon points="673.5,90.5 678.5,90.5 681.5,93.5 681.5,98.5 678.5,101.5 673.5,101.5 670.5,98.5 670.5,93.5" fill="#fff" stroke="#000" stroke-width="1.1" shape-rendering="geometricPrecision"/>
<polygon points="674,92 678,92 680,94 680,98 678,100 674,100 672,98 672,94" fill="#f00" shape-rendering="geometricPrecision"/>
<rect x="667" y="113" width="16" height="16" fill="#0000ff" />
<rect x="669" y="115" width="12" height="12" fill="#ffffcc" />
<rect x="674" y="119" width="2" height="7" fill="#0000ff" />
<rect x="674" y="116" width="2" height="2" fill="#0000ff" />
<rect x="693.5" y="117.5" width="8" height="8" fill="#0000ff" stroke="#000" stroke-width="1"/>
<rect x="719.5" y="99.5" width="31" height="26" fill="#ffffcc" stroke="#000" stroke-width="1"/>
<rect x="724.5" y="103.5" width="8" height="12" fill="#ffffe6" stroke="#000" stroke-width="1"/>
<rect x="728" y="103" width="1" height="12" fill="#000" />
<rect x="724" y="107" width="8" height="1" fill="#000" />
<rect x="724" y="111" width="8" height="1" fill="#000" />
<rect x="722.5" y="101.5" width="8" height="12" fill="#ffffe6" stroke="#000" stroke-width="1"/>
<rect x="726" y="101" width="1" height="12" fill="#000" />
<rect x="722" y="105" width="8" height="1" fill="#000" />
<rect x="722" y="109" width="8" height="1" fill="#000" />
<rect x="722" y="121" width="4" height="3" fill="#000" />
<rect x="727" y="123" width="1" height="1" fill="#000" />
<rect x="730" y="119" width="1" height="5" fill="#000" />
<rect x="729" y="120" width="1" height="1" fill="#000" />
<rect x="731" y="120" width="1" height="1" fill="#000" />
<rect x="728" y="123" width="2" height="1" fill="#000" />
<rect x="739.5" y="119.5" width="4" height="4" fill="#ffffcc" stroke="#000" stroke-width="1"/>
<rect x="102.5" y="234.5" width="13" height="14" fill="#ffffd5" stroke="#000" stroke-width="1.3"/>
<text x="105" y="246" font-family="Liberation Sans" font-size="11.2" font-weight="400" fill="#000" textLength="5.5" lengthAdjust="spacingAndGlyphs" stroke="#000" stroke-width="0.35">1</text>
<rect x="111" y="244" width="1.6" height="2" fill="#000" />
<rect x="140.5" y="234.5" width="13" height="14" fill="#ffffd5" stroke="#000" stroke-width="1.3"/>
<text x="143" y="246" font-family="Liberation Sans" font-size="11.2" font-weight="400" fill="#000" textLength="5.5" lengthAdjust="spacingAndGlyphs" stroke="#000" stroke-width="0.35">2</text>
<rect x="149" y="244" width="1.6" height="2" fill="#000" />
<rect x="463.5" y="234.5" width="13" height="14" fill="#ffffd5" stroke="#000" stroke-width="1.3"/>
<text x="466" y="246" font-family="Liberation Sans" font-size="11.2" font-weight="400" fill="#000" textLength="5.5" lengthAdjust="spacingAndGlyphs" stroke="#000" stroke-width="0.35">3</text>
<rect x="472" y="244" width="1.6" height="2" fill="#000" />
<rect x="790.5" y="234.5" width="13" height="14" fill="#ffffd5" stroke="#000" stroke-width="1.3"/>
<text x="793" y="246" font-family="Liberation Sans" font-size="11.2" font-weight="400" fill="#000" textLength="5.5" lengthAdjust="spacingAndGlyphs" stroke="#000" stroke-width="0.35">4</text>
<rect x="799" y="244" width="1.6" height="2" fill="#000" />
<rect x="254.5" y="273.5" width="472" height="180" fill="#ffffd5" stroke="#000" stroke-width="1"/>
<text x="256.5" y="286" font-family="Liberation Sans" font-size="12" font-weight="400" fill="#000" textLength="57.5" lengthAdjust="spacingAndGlyphs" >1. Initialize:</text>
<text x="268.5" y="301" font-family="Liberation Sans" font-size="12" font-weight="400" fill="#000" textLength="274" lengthAdjust="spacingAndGlyphs" >Authenticates user to a hosted Google Doc account.</text>
<text x="256.5" y="316" font-family="Liberation Sans" font-size="12" font-weight="400" fill="#000" textLength="68" lengthAdjust="spacingAndGlyphs" >2. Get Books:</text>
<text x="268.5" y="331" font-family="Liberation Sans" font-size="12" font-weight="400" fill="#000" textLength="330.5" lengthAdjust="spacingAndGlyphs" >Queries the Google Doc account for the amount of Workbooks</text>
<text x="268.5" y="346" font-family="Liberation Sans" font-size="12" font-weight="400" fill="#000" textLength="204" lengthAdjust="spacingAndGlyphs" >Returns the list of Workbooks by name</text>
<text x="256.5" y="361" font-family="Liberation Sans" font-size="12" font-weight="400" fill="#000" textLength="70" lengthAdjust="spacingAndGlyphs" >3. Get Sheets:</text>
<text x="268.5" y="376" font-family="Liberation Sans" font-size="12" font-weight="400" fill="#000" textLength="319.5" lengthAdjust="spacingAndGlyphs" >Queries the chosen Workbook for the amount of Worksheets</text>
<text x="268.5" y="391" font-family="Liberation Sans" font-size="12" font-weight="400" fill="#000" textLength="204.5" lengthAdjust="spacingAndGlyphs" >Returns the list of Worksheets by name</text>
<text x="256.5" y="406" font-family="Liberation Sans" font-size="12" font-weight="400" fill="#000" textLength="80" lengthAdjust="spacingAndGlyphs" >4. Read Sheets:</text>
<text x="268.5" y="421" font-family="Liberation Sans" font-size="12" font-weight="400" fill="#000" textLength="364.5" lengthAdjust="spacingAndGlyphs" >Queries the chosen Worksheet for the amount of non-Null cell values</text>
<text x="268.5" y="436" font-family="Liberation Sans" font-size="12" font-weight="400" fill="#000" textLength="456" lengthAdjust="spacingAndGlyphs" >Initializes a 2D Array in LabVIEW based on the Rows/Columns of the chosen Worksheet</text>
<text x="256.5" y="451" font-family="Liberation Sans" font-size="12" font-weight="400" fill="#000" textLength="405.5" lengthAdjust="spacingAndGlyphs" >Populates the individual Cell Values in the 2D Array in a Row/Column fashion</text>
</svg></body></html>
